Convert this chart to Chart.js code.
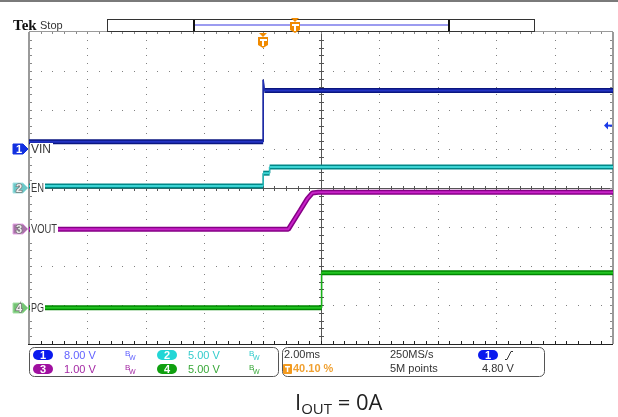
<!DOCTYPE html>
<html>
<head>
<meta charset="utf-8">
<script src="https://cdn.jsdelivr.net/npm/chart.js@4/dist/chart.umd.min.js"></script>
<style>
html, body { margin: 0; padding: 0; background: #fff; }
#wrap { width: 618px; height: 417px; }
</style>
</head>
<body>
<div id="wrap"><canvas id="scope" width="618" height="417"></canvas></div>
<script>
// time axis in ms, trigger at 0 (40.10 % of the record)
const msPerDiv = 2
const trigPos = 40.10
const xMin = -10 * msPerDiv * trigPos / 100
const xMax = xMin + 10 * msPerDiv

// channel setup
const chNames = ['VIN', 'EN', 'VOUT', 'PG']
const chScale = [8, 5, 1, 5]            // V/div
const chOffset = [1.0, 0, -1.06, -3.07] // ground marker, div from centre
const chColor = ['#0a1680', '#008888', '#860086', '#008600']
const chInner = ['#2434c4', '#3cd4d4', '#c822c8', '#22c422']

// traces (ms, V)
const vinTime = [xMin, 0, 0, 0.04, xMax]
const vinVolts = [1.5, 1.5, 14.2, 12.0, 12.0]
const enTime = [xMin, 0, 0, 0.22, 0.22, xMax]
const enVolts = [0.26, 0.26, 1.9, 1.9, 2.7, 2.7]
const voutTime = [xMin, 0.86, 1.27, 1.51, 1.68, 1.89, xMax]
const voutVolts = [0, 0, 0.49, 0.78, 0.93, 0.95, 0.95]
const pgTime = [xMin, 2.0, 2.0, xMax]
const pgVolts = [0, 0, 4.5, 4.5]

const traceTimes = [vinTime, enTime, voutTime, pgTime]
const traceVolts = [vinVolts, enVolts, voutVolts, pgVolts]

// trigger / acquisition readouts
const trigChannel = 0
const trigLevel = 4.80
const sampleRate = '250MS/s'
const recordLength = '5M points'

const toDiv = (ch, v) => chOffset[ch] + v / chScale[ch]

// fast edges are drawn thin, like on the scope screen
const isEdge = (c) => Math.abs(c.p1.parsed.x - c.p0.parsed.x) < 0.05

const datasets = []
traceTimes.forEach((times, ch) => {
    const pts = times.map((t, i) => ({ x: t, y: toDiv(ch, traceVolts[ch][i]) }))
    datasets.push({
        label: chNames[ch], data: pts, borderColor: chColor[ch],
        borderWidth: 5, pointRadius: 0, tension: 0, order: 2,
        borderJoinStyle: 'bevel',
        segment: { borderWidth: c => isEdge(c) ? 1.5 : undefined }
    })
    datasets.push({
        label: chNames[ch] + ' core', data: pts, borderColor: chInner[ch],
        borderWidth: 2, pointRadius: 0, tension: 0, order: 1,
        borderJoinStyle: 'bevel',
        segment: { borderWidth: c => isEdge(c) ? 0.8 : undefined }
    })
})

const px = (x) => Math.round(x)

const drawGraticule = (chart) => {
    const { ctx, chartArea: a } = chart
    const L = a.left, R = a.right, T = a.top, B = a.bottom
    const dx = (R - L) / 10, dy = (B - T) / 8
    ctx.save()
    ctx.fillStyle = '#808080'
    for (let i = 1; i < 10; i++) {
        if (i === 5) continue
        for (let k = 1; k < 40; k++) ctx.fillRect(px(L + i * dx), px(T + k * dy / 5), 1, 1)
    }
    for (let j = 1; j < 8; j++) {
        if (j === 4) continue
        for (let k = 1; k < 50; k++) ctx.fillRect(px(L + k * dx / 5), px(T + j * dy), 1, 1)
    }
    const cx = px(L + 5 * dx), cy = px(T + 4 * dy)
    ctx.fillStyle = '#555'
    ctx.fillRect(cx, T, 1, B - T)
    ctx.fillRect(L, cy, R - L, 1)
    for (let k = 1; k < 40; k++) ctx.fillRect(cx - 2, px(T + k * dy / 5), 5, 1)
    for (let k = 1; k < 50; k++) ctx.fillRect(px(L + k * dx / 5), cy - 2, 1, 5)
    // frame
    ctx.fillStyle = '#9a9a9a'
    ctx.fillRect(L - 1, T, 2, B - T)
    ctx.fillRect(R - 1, T, 2, B - T)
    ctx.fillRect(L, T - 1, R - L, 1)
    ctx.fillStyle = '#888'
    for (let k = 1; k < 40; k++) {
        ctx.fillRect(L + 1, px(T + k * dy / 5), 2, 1)
        ctx.fillRect(R - 3, px(T + k * dy / 5), 2, 1)
    }
    for (let k = 1; k < 50; k++) ctx.fillRect(px(L + k * dx / 5), T, 1, 2)
    ctx.fillStyle = '#222'
    ctx.fillRect(L - 1, B, R - L + 1, 1)
    for (let k = 1; k < 50; k++) ctx.fillRect(px(L + k * dx / 5), B - 3, 1, 3)
    ctx.restore()
}

const markerFill = ['#1230e0', '#6cc8c8', '#a874a8', '#74c474']
const markerEdge = ['#1230e0', '#a8e4e4', '#e6a6e6', '#a6e2a6']
const markerText = ['#fff', '#f2f2f2', '#eee', '#f2f2f2']
const labelWidth = [21, 13, 26, 13]

const drawOverlay = (chart) => {
    const { ctx, chartArea: a, scales: { x, y } } = chart
    ctx.save()
    ctx.textBaseline = 'middle'
    chNames.forEach((name, ch) => {
        const yc = px(y.getPixelForValue(chOffset[ch]))
        // channel ground marker
        ctx.beginPath()
        ctx.moveTo(13, yc - 5); ctx.lineTo(23, yc - 5); ctx.lineTo(28, yc)
        ctx.lineTo(23, yc + 5); ctx.lineTo(13, yc + 5); ctx.closePath()
        ctx.fillStyle = markerFill[ch]; ctx.fill()
        ctx.strokeStyle = markerEdge[ch]; ctx.lineWidth = 1; ctx.stroke()
        ctx.font = 'bold 11px "Liberation Sans"'
        ctx.textAlign = 'center'
        if (ch > 0) { ctx.strokeStyle = '#777'; ctx.lineWidth = 1.5; ctx.strokeText(String(ch + 1), 19, yc + 1) }
        ctx.fillStyle = markerText[ch]
        ctx.fillText(String(ch + 1), 19, yc + 1)
        // trace label
        ctx.fillStyle = '#fff'
        ctx.fillRect(a.left + 1, yc - 6, labelWidth[ch] + 2, 13)
        ctx.fillStyle = '#3a3a3a'
        ctx.textAlign = 'left'
        ctx.font = '12px "Liberation Sans"'
        ctx.fillText(name, a.left + 2, yc + 1, labelWidth[ch])
    })
    // trigger level arrow (right edge)
    const ty = y.getPixelForValue(toDiv(trigChannel, trigLevel))
    ctx.fillStyle = '#1a3ae8'
    ctx.beginPath()
    ctx.moveTo(a.right - 9, ty); ctx.lineTo(a.right - 5, ty - 4); ctx.lineTo(a.right - 5, ty + 4); ctx.closePath()
    ctx.fill()
    ctx.fillRect(a.right - 6, ty - 1, 5, 2)
    // trigger position marker
    const tx = px(x.getPixelForValue(0))
    drawTrigT(ctx, tx, a.top + 1)
    ctx.restore()
}

const drawTrigT = (ctx, cx, top) => {
    ctx.fillStyle = '#f08a00'
    ctx.beginPath()
    ctx.moveTo(cx - 4, top); ctx.lineTo(cx + 4, top); ctx.lineTo(cx, top + 4); ctx.closePath()
    ctx.fill()
    ctx.beginPath()
    ctx.moveTo(cx - 5, top + 4); ctx.lineTo(cx + 5, top + 4); ctx.lineTo(cx + 5, top + 12)
    ctx.lineTo(cx, top + 15); ctx.lineTo(cx - 5, top + 12); ctx.closePath()
    ctx.fill()
    ctx.fillStyle = '#fff'
    ctx.fillRect(cx - 3, top + 6, 7, 2)
    ctx.fillRect(cx - 1, top + 6, 2, 7)
}

const pill = (ctx, x0, y0, w, h, color, text) => {
    ctx.fillStyle = color
    ctx.beginPath()
    ctx.roundRect(x0, y0, w, h, h / 2)
    ctx.fill()
    ctx.fillStyle = '#fff'
    ctx.font = 'bold 11px "Liberation Sans"'
    ctx.textAlign = 'center'
    ctx.fillText(text, x0 + w / 2, y0 + h / 2 + 1)
    ctx.textAlign = 'left'
}

const pillColor = ['#0a1aee', '#22d6d6', '#a010a0', '#10a010']
const readColor = ['#6262ff', '#34cccc', '#a428a4', '#38a838']

const drawFrame = (chart) => {
    const { ctx } = chart
    ctx.save()
    ctx.fillStyle = '#7a7a7a'
    ctx.fillRect(0, 0, 618, 2)
    ctx.textBaseline = 'alphabetic'
    ctx.fillStyle = '#111'
    ctx.font = 'bold 15px "Liberation Serif"'
    ctx.fillText('Tek', 13, 30)
    ctx.fillStyle = '#333'
    ctx.font = '11px "Liberation Sans"'
    ctx.fillText('Stop', 40, 29)
    // record view bar
    ctx.strokeStyle = '#333'; ctx.lineWidth = 1
    ctx.strokeRect(107.5, 19.5, 427, 12)
    ctx.fillStyle = '#9c9cf0'
    ctx.fillRect(194, 24, 255, 2)
    ctx.fillStyle = '#111'
    ctx.fillRect(193, 20, 2, 11)
    ctx.fillRect(448, 20, 2, 11)
    drawTrigT(ctx, 295, 18)

    // readout boxes
    ctx.strokeStyle = '#555'
    ctx.beginPath(); ctx.roundRect(29.5, 347.5, 249, 29, 5); ctx.stroke()
    ctx.beginPath(); ctx.roundRect(282.5, 347.5, 262, 29, 5); ctx.stroke()
    ctx.textBaseline = 'middle'
    const cols = [33, 157]
    const rows = [355, 369]
    ;[0, 1, 2, 3].forEach(ch => {
        const cx = cols[ch % 2], cy = rows[Math.floor(ch / 2)]
        pill(ctx, cx, cy - 5, 20, 10, pillColor[ch], String(ch + 1))
        ctx.fillStyle = readColor[ch]
        ctx.font = '11px "Liberation Sans"'
        ctx.fillText(chScale[ch].toFixed(2) + ' V', cx + 31, cy + 1)
        ctx.font = '8px "Liberation Sans"'
        ctx.fillText('B', cx + 92, cy - 1)
        ctx.font = '7px "Liberation Sans"'
        ctx.fillText('W', cx + 96, cy + 3)
    })
    ctx.fillStyle = '#333'
    ctx.font = '11px "Liberation Sans"'
    ctx.fillText(msPerDiv.toFixed(2) + 'ms', 284, 355)
    ctx.fillText(sampleRate, 390, 355)
    ctx.fillText(recordLength, 390, 369)
    ctx.fillText(trigLevel.toFixed(2) + ' V', 482, 369)
    pill(ctx, 478, 350, 20, 10, pillColor[trigChannel], String(trigChannel + 1))
    ctx.strokeStyle = '#333'; ctx.lineWidth = 1
    ctx.beginPath()
    ctx.moveTo(505, 359.5); ctx.lineTo(507, 359.5); ctx.lineTo(511, 351.5); ctx.lineTo(513, 351.5)
    ctx.stroke()
    ctx.fillStyle = '#f39a1e'
    ctx.beginPath(); ctx.roundRect(283, 364, 9, 10, 1); ctx.fill()
    ctx.fillStyle = '#fff'
    ctx.fillRect(285, 366, 5, 1.5)
    ctx.fillRect(286.8, 366, 1.5, 6)
    ctx.fillStyle = '#f0a030'
    ctx.fillText(trigPos.toFixed(2) + ' %', 293, 369)

    // caption
    ctx.textBaseline = 'alphabetic'
    ctx.fillStyle = '#222'
    let cx = 295
    ctx.font = '22px "Open Sans"'
    ctx.fillText('I', cx, 410)
    cx += ctx.measureText('I').width
    ctx.font = '15px "Open Sans"'
    ctx.fillText('OUT', cx, 414)
    cx += ctx.measureText('OUT').width
    ctx.font = '22px "Open Sans"'
    ctx.fillText(' = 0A', cx, 410)
    ctx.restore()
}

const scopePlugin = {
    id: 'scope',
    beforeDatasetsDraw: drawGraticule,
    afterDatasetsDraw: drawOverlay,
    afterDraw: drawFrame
}

const config = {
    type: 'line',
    data: { datasets: datasets },
    options: {
        responsive: false,
        animation: false,
        devicePixelRatio: 1,
        layout: { padding: { left: 29, right: 5, top: 32, bottom: 73 } },
        scales: {
            x: { type: 'linear', min: xMin, max: xMax, display: false },
            y: { type: 'linear', min: -4, max: 4, display: false }
        },
        plugins: {
            legend: { display: false },
            tooltip: { enabled: false }
        }
    },
    plugins: [scopePlugin]
}

new Chart(document.getElementById('scope'), config)
</script>
</body>
</html>
